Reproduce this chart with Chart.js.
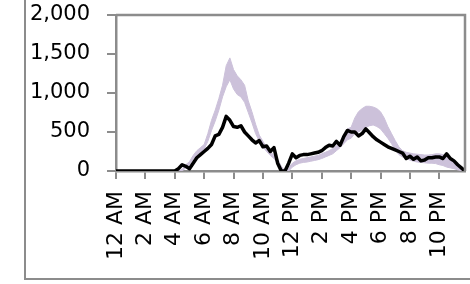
<!DOCTYPE html>
<html>
<head>
<meta charset="utf-8">
<script src="https://cdn.jsdelivr.net/npm/chart.js@4"></script>
<style>
html,body{margin:0;padding:0;background:#fff;}
#wrap{position:relative;width:470px;height:284px;overflow:hidden;}
#frame{position:absolute;left:24px;top:-10px;width:500px;height:290px;border-left:2px solid #8c8c8c;border-bottom:2px solid #8c8c8c;box-sizing:border-box;}
canvas{position:absolute;left:0;top:0;}
</style>
</head>
<body>
<div id="wrap">
<div id="frame"></div>
<canvas id="c" width="470" height="284"></canvas>
</div>
<script>
// Tick labels (every 2 hours)
const hourLabels = ['12 AM','2 AM','4 AM','6 AM','8 AM','10 AM','12 PM','2 PM','4 PM','6 PM','8 PM','10 PM'];
// 15-minute time slots across the day (96 categories)
const slots = [];
for (let h = 0; h < 24; h++) for (let m = 0; m < 60; m += 15) slots.push(h + ':' + (m === 0 ? '00' : m));

// Black series
const actual = [
  0,0,0,0,0,0,0,0,0,0,0,0,0,0,0,0,
  0,30,80,60,30,100,170,210,250,290,340,450,470,560,700,650,
  570,560,580,500,450,400,360,390,310,320,250,300,100,0,0,100,
  220,170,200,210,210,220,230,240,260,300,330,320,380,330,440,520,
  500,500,450,480,540,490,440,400,370,340,310,290,270,250,230,160,
  190,150,180,130,140,170,170,180,180,160,220,160,130,80,40,0
];
// Purple band: upper and lower edges
const bandUpper = [
  0,0,0,0,0,0,0,0,0,0,0,0,0,0,0,0,
  0,0,20,80,120,200,260,300,340,480,650,780,930,1100,1350,1450,
  1300,1220,1170,1100,900,760,600,460,380,300,250,200,150,60,0,40,
  100,130,150,160,170,180,190,200,220,240,260,290,320,370,430,540,
  560,680,760,800,830,830,820,800,760,680,570,480,390,310,260,240,
  230,220,215,210,205,205,210,220,220,210,190,160,130,100,50,0
];
const bandLower = [
  0,0,0,0,0,0,0,0,0,0,0,0,0,0,0,0,
  0,0,0,40,80,150,200,240,280,380,520,640,780,950,1080,1170,
  1050,980,950,880,750,620,480,380,310,250,200,160,100,20,0,0,
  50,80,100,110,115,125,135,145,160,180,200,220,260,300,350,400,
  420,480,500,530,560,580,590,570,540,480,420,350,270,210,180,160,
  140,125,115,110,105,100,100,95,80,70,50,40,30,15,5,0
];
const yTicks = [0, 500, 1000, 1500, 2000];

const band = 'rgb(204,193,218)';
const gray = '#8c8c8c';
const FONT = 'DejaVu Sans';

const frame = {
  id: 'frame',
  afterDraw(chart) {
    const {ctx, chartArea: a} = chart;
    ctx.save();
    ctx.strokeStyle = gray;
    ctx.lineWidth = 2.5;
    ctx.beginPath();
    ctx.moveTo(a.left, a.top);
    ctx.lineTo(a.right, a.top);
    ctx.lineTo(a.right, a.bottom);
    ctx.stroke();
    ctx.restore();
  }
};

new Chart(document.getElementById('c'), {
  type: 'line',
  data: {
    labels: slots,
    datasets: [
      {data: actual, borderColor: '#000', borderWidth: 3.5, pointRadius: 0, fill: false, tension: 0, borderJoinStyle: 'round'},
      {data: bandLower, borderColor: band, borderWidth: 1, pointRadius: 0, fill: false, tension: 0},
      {data: bandUpper, borderColor: band, backgroundColor: band, borderWidth: 1, pointRadius: 0, fill: '-1', tension: 0}
    ]
  },
  options: {
    responsive: false,
    animation: false,
    devicePixelRatio: 1,
    layout: {padding: {left: 0, right: 5, top: 15, bottom: 0}},
    plugins: {legend: {display: false}, tooltip: {enabled: false}},
    scales: {
      x: {
        type: 'category',
        offset: false,
        afterFit(s) { s.height = 113; s.paddingLeft = 0; s.paddingRight = 0; },
        grid: {display: true, drawOnChartArea: false, drawTicks: true, tickLength: 8, color: gray, lineWidth: 2},
        border: {display: true, color: gray, width: 2.5},
        ticks: {
          autoSkip: false, maxRotation: 90, minRotation: 90, padding: 12,
          color: '#000', font: {family: FONT, size: 22},
          callback(v, i) { return i % 8 === 0 ? hourLabels[i / 8] : null; }
        }
      },
      y: {
        min: 0, max: 2000,
        afterFit(s) { s.width = 116; s.paddingTop = 0; s.paddingBottom = 0; },
        afterBuildTicks(s) { s.ticks = yTicks.map(v => ({value: v})); },
        grid: {display: true, drawOnChartArea: false, drawTicks: true, tickLength: 9, color: gray, lineWidth: 2},
        border: {display: true, color: gray, width: 2.5},
        ticks: {
          padding: 17, color: '#000', font: {family: FONT, size: 21},
          callback(v) { return v.toLocaleString('en-US'); }
        }
      }
    }
  },
  plugins: [frame]
});
</script>
</body>
</html>
